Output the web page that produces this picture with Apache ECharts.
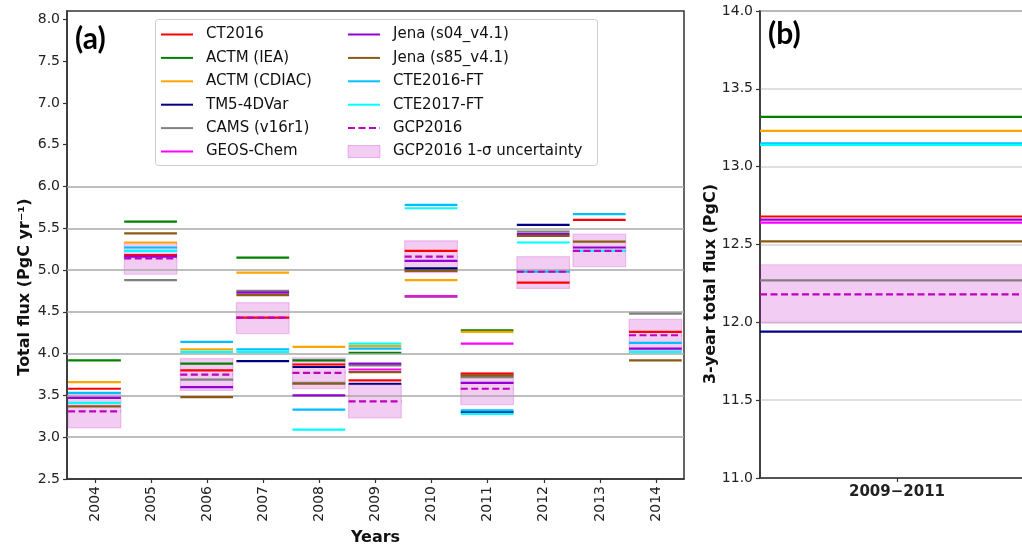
<!DOCTYPE html>
<html><head><meta charset="utf-8">
<script src="https://cdn.jsdelivr.net/npm/echarts@6/dist/echarts.min.js"></script>
<style>html,body{margin:0;padding:0;background:#fff}#c{width:1022px;height:549px}</style>
</head><body><div id="c"></div>
<script>
// ---------- data ----------
const years = [2004, 2005, 2006, 2007, 2008, 2009, 2010, 2011, 2012, 2013, 2014];
const yearLabels = ['2004','2005','2006','2007','2008','2009','2010','2011','2012','2013','2014'];
const periodLabel = ['2009\u22122011'];

const CT2016     = [3.58, 5.18, 3.80, 4.43, 3.87, 3.68, 5.23, 3.76, 4.85, 5.60, 4.26];
const ACTM_IEA   = [3.92, 5.58, 3.88, 5.15, 3.92, 4.01, 5.01, 4.28, null, null, null];
const ACTM_CDIAC = [3.66, 5.33, 4.05, 4.97, 4.08, 4.09, 4.88, 4.26, null, null, null];
const TM5_4DVar  = [null, null, null, 3.91, 3.84, 3.64, 5.02, 3.30, 5.54, null, null];
const CAMS_v16r1 = [null, 4.88, 3.69, 4.75, 3.65, 3.86, 4.68, 3.72, 5.46, null, 4.48];
const GEOS_Chem  = [null, null, null, null, null, 3.81, 4.69, 4.12, null, null, null];
const Jena_s04   = [3.47, 5.16, 3.60, 4.73, 3.50, 3.88, 5.11, 3.65, 5.43, 5.27, 4.06];
const Jena_s85   = [3.37, 5.44, 3.48, 4.70, 3.64, 3.78, 4.99, 3.74, 5.41, 5.34, 3.92];
const CTE2016_FT = [3.53, 5.27, 4.14, 4.05, 3.33, 4.06, 5.78, 3.32, 4.98, 5.67, 4.13];
const CTE2017_FT = [3.41, 5.23, 4.02, 4.02, 3.09, 4.12, 5.74, 3.28, 5.33, 5.23, 4.02];
const GCP2016    = [3.31, 5.14, 3.75, 4.43, 3.77, 3.43, 5.16, 3.58, 4.98, 5.23, 4.22];
const GCP2016_lo = [3.11, 4.95, 3.56, 4.24, 3.58, 3.23, 4.97, 3.39, 4.78, 5.04, 4.03];
const GCP2016_hi = [3.51, 5.33, 3.94, 4.61, 3.95, 3.63, 5.35, 3.77, 5.16, 5.43, 4.41];

// 3-year totals 2009-2011 (panel b), same order as modelNames
const modelNames = ['CT2016','ACTM (IEA)','ACTM (CDIAC)','TM5-4DVar','CAMS (v16r1)','GEOS-Chem',
                    'Jena (s04_v4.1)','Jena (s85_v4.1)','CTE2016-FT','CTE2017-FT','GCP2016'];
const total3yr   = [12.68, 13.32, 13.23, 11.94, 12.27, 12.64, 12.66, 12.52, 13.15, 13.14, 12.18];
const GCP3yr_lo  = [12.00];
const GCP3yr_hi  = [12.37];
const bandName = 'GCP2016 1-\u03c3 uncertainty';

const gridValuesA = [3.0, 3.5, 4.0, 4.5, 5.0, 5.5, 6.0];

// ---------- styles ----------
const modelAnnual = [CT2016, ACTM_IEA, ACTM_CDIAC, TM5_4DVar, CAMS_v16r1, GEOS_Chem,
                     Jena_s04, Jena_s85, CTE2016_FT, CTE2017_FT, GCP2016];
const modelColors = ['#ff0000','#008000','#ffa500','#000080','#808080','#ff00ff',
                     '#9400d3','#8b5a14','#00bfff','#00ffff','#bf00bf'];
const FONT = 'DejaVu Sans';
const X0 = -0.48, X1 = 0.46;

function segs(vals){
  const d = [];
  years.forEach((y,i)=>{
    if (vals[i] == null) return;
    d.push([y + X0, vals[i]], [y + X1, vals[i]], [y + 0.49, '-']);
  });
  return d;
}

const series = [];
series.push({
  type:'line', xAxisIndex:0, yAxisIndex:0, data:[], silent:true, z:1,
  markLine:{symbol:'none', silent:true, animation:false, label:{show:false},
    lineStyle:{color:'#a8a8a8', width:1.5, type:'solid'},
    data: gridValuesA.map(v=>({yAxis:v}))}
});
const bandStyle = {fill:'rgba(191,0,191,0.2)', stroke:'rgba(191,0,191,0.2)', lineWidth:1.2};
function bandRender(params, api){
  const p0 = api.coord([api.value(0), api.value(3)]);
  const p1 = api.coord([api.value(1), api.value(2)]);
  return {type:'rect', shape:{x:p0[0], y:p0[1], width:p1[0]-p0[0], height:p1[1]-p0[1]}, style:bandStyle};
}
series.push({
  type:'custom', name:bandName, xAxisIndex:0, yAxisIndex:0, z:2,
  itemStyle:{color:'rgba(191,0,191,0.2)'},
  renderItem: bandRender,
  encode:{x:[0,1], y:[2,3]},
  data: years.map((y,i)=>[y + X0, y + X1, GCP2016_lo[i], GCP2016_hi[i]])
});
series.push({
  type:'custom', name:bandName, xAxisIndex:1, yAxisIndex:1, z:2,
  itemStyle:{color:'rgba(191,0,191,0.2)'},
  renderItem: bandRender,
  encode:{x:[0,1], y:[2,3]},
  data: [[0, 1, GCP3yr_lo[0], GCP3yr_hi[0]]]
});
modelNames.forEach((name,k)=>{
  const dashed = name === 'GCP2016';
  const ls = {color:modelColors[k], width:2.2, type: dashed ? [7,3.5] : 'solid', cap:'butt'};
  series.push({
    type:'line', name, xAxisIndex:0, yAxisIndex:0, z:3 + k,
    symbol:'none', showSymbol:false, connectNulls:false, silent:true,
    color: modelColors[k], lineStyle: ls,
    data: segs(modelAnnual[k])
  });
  series.push({
    type:'line', name, xAxisIndex:1, yAxisIndex:1, z:3 + k,
    symbol:'none', showSymbol:false, silent:true,
    color: modelColors[k], lineStyle: ls,
    data: [[0, total3yr[k]], [1, total3yr[k]]]
  });
});

const axisTxt = {color:'#222', fontFamily:FONT, fontSize:14};
const nameTxt = {color:'#111', fontFamily:FONT, fontSize:16, fontWeight:'bold'};
const spine = {show:true, lineStyle:{color:'#333', width:1.5}};
const tick = {show:true, length:4, lineStyle:{color:'#333', width:1.2}};

const legendCommon = {
  orient:'vertical', itemWidth:32, itemHeight:12, itemGap:8.4, z:20,
  itemStyle:{opacity:0},
  textStyle:{color:'#111', fontFamily:FONT, fontSize:15, padding:[0,0,0,8]},
  selectedMode:false
};
const bandLegendItem = {name:bandName, icon:'rect',
  itemStyle:{opacity:1, color:'rgba(191,0,191,0.2)', borderColor:'rgba(191,0,191,0.25)', borderWidth:1}};

const option = {
  animation:false,
  backgroundColor:'#fff',
  grid:[
    {left:67, right:338, top:11, bottom:70, outerBoundsMode:'none', containLabel:false,
     show:true, borderColor:'#333', borderWidth:1.5, backgroundColor:'transparent'},
    {left:760, width:274, top:11, bottom:71, outerBoundsMode:'none', containLabel:false,
     show:true, borderColor:'#333', borderWidth:1.5, backgroundColor:'transparent'}
  ],
  xAxis:[
    {type:'value', gridIndex:0, min:2003.5, max:2014.5, axisLine:{show:false}, axisTick:{show:false},
     axisLabel:{show:false}, splitLine:{show:false}},
    {type:'value', gridIndex:1, min:0, max:1, axisLine:{show:false}, axisTick:{show:false},
     axisLabel:{show:false}, splitLine:{show:false}},
    {type:'category', gridIndex:0, data:yearLabels, position:'bottom', boundaryGap:true,
     axisLine:spine, axisTick:Object.assign({alignWithLabel:true}, tick),
     axisLabel:Object.assign({rotate:90, margin:7, interval:0}, axisTxt),
     name:'Years', nameLocation:'middle', nameGap:51, nameTextStyle:nameTxt},
    {type:'category', gridIndex:1, data:periodLabel, position:'bottom', boundaryGap:true,
     axisLine:spine, axisTick:Object.assign({alignWithLabel:true}, tick),
     axisLabel:Object.assign({}, axisTxt, {margin:7, fontWeight:'bold', fontSize:15})}
  ],
  yAxis:[
    {type:'value', gridIndex:0, min:2.5, max:8.1, interval:0.5,
     axisLine:spine, axisTick:tick, splitLine:{show:false},
     axisLabel:Object.assign({margin:7, showMaxLabel:false, formatter:v=>v.toFixed(1)}, axisTxt)},
    {type:'value', gridIndex:1, min:11.0, max:14.0, interval:0.5,
     axisLine:spine, axisTick:tick,
     splitLine:{show:true, lineStyle:{color:'#d6d6d6', width:1.5}},
     axisLabel:Object.assign({margin:7, formatter:v=>v.toFixed(1)}, axisTxt)}
  ],
  legend:[
    Object.assign({left:155, top:22, data:modelNames.slice(0,6)}, legendCommon),
    Object.assign({left:342, top:22, data:modelNames.slice(6).concat([bandLegendItem])}, legendCommon)
  ],
  graphic:[
    {type:'rect', left:155, top:19, z:0, zlevel:0, shape:{width:442, height:146, r:3},
     style:{fill:'rgba(255,255,255,0.85)', stroke:'#cccccc', lineWidth:1}},
    {type:'text', left:75, top:24, z:60, style:{text:'(a)', font:'bold 30px Lato', fill:'#000'}},
    {type:'text', left:768, top:19, z:60, style:{text:'(b)', font:'bold 30px Lato', fill:'#000'}},
    {type:'text', x:25, y:287, rotation:Math.PI/2, z:60,
     style:{text:'Total flux (PgC yr\u207b\u00b9)', font:'bold 16px "DejaVu Sans"', fill:'#111',
            align:'center', verticalAlign:'middle'}},
    {type:'text', x:711, y:284, rotation:Math.PI/2, z:60,
     style:{text:'3-year total flux (PgC)', font:'bold 16px "DejaVu Sans"', fill:'#111',
            align:'center', verticalAlign:'middle'}}
  ],
  series
};
const chart = echarts.init(document.getElementById('c'), null, {renderer:'canvas'});
chart.setOption(option);
</script></body></html>
